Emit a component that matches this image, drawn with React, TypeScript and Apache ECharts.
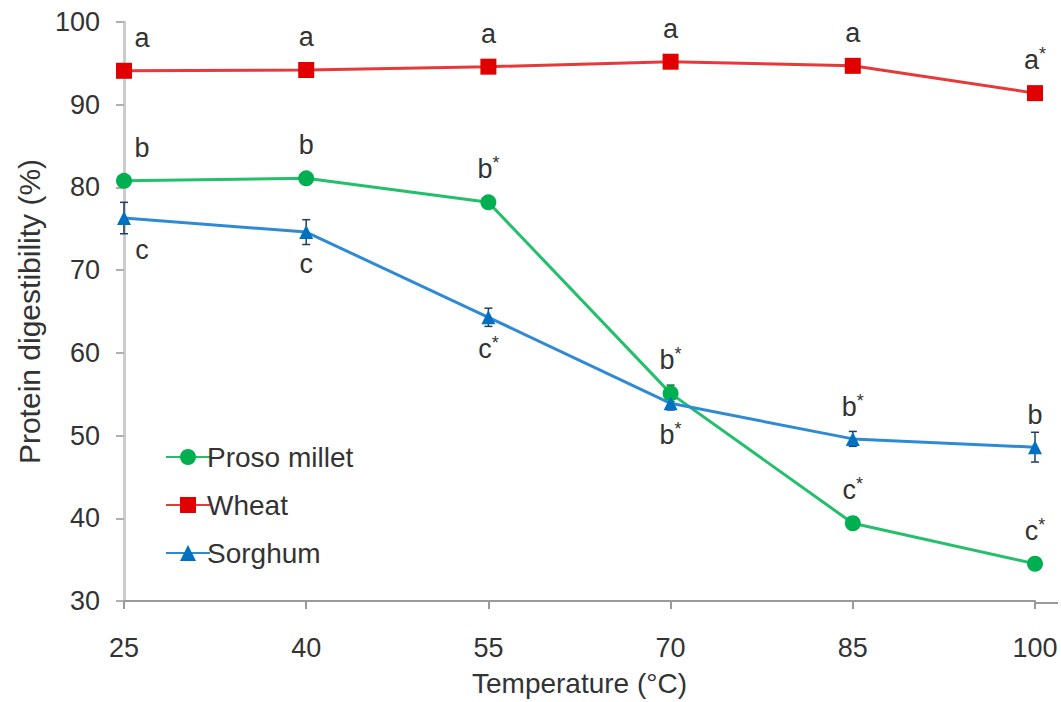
import React, { useEffect, useRef } from "react";
import * as echarts from "echarts";

const temperatures = ["25", "40", "55", "70", "85", "100"];
const prosoValues = [80.8, 81.1, 78.2, 55.1, 39.4, 34.5];
const wheatValues = [94.1, 94.2, 94.6, 95.2, 94.7, 91.4];
const sorghumValues = [76.3, 74.6, 64.3, 53.9, 49.6, 48.6];
const prosoErrors = [0.5, 0.5, 0.6, 1.0, 0.6, 0.5];
const wheatErrors = [0.4, 0.4, 0.4, 0.3, 0.4, 0.4];
const sorghumErrors = [1.9, 1.5, 1.1, 0.8, 0.9, 1.8];
const prosoLetters = ["b", "b", "b*", "b*", "c*", "c*"];
const wheatLetters = ["a", "a", "a", "a", "a", "a*"];
const sorghumLetters = ["c", "c", "c*", "b*", "b*", "b"];
const prosoLetterPos = ["top", "top", "top", "top", "top", "top"];
const wheatLetterPos = ["top", "top", "top", "top", "top", "top"];
const sorghumLetterPos = ["bottom", "bottom", "bottom", "bottom", "top", "top"];
const yTicks = { min: 30, max: 100, interval: 10 };

const TEXT = "#333333";
const FONT = "'Liberation Sans', Arial, sans-serif";

function letterRich(s: string) {
  if (s.endsWith("*")) return "{b|" + s.slice(0, -1) + "}{s|*}";
  return "{b|" + s + "}";
}

function buildData(values: number[], letters: string[], pos: string[]) {
  return values.map((v, i) => ({
    value: v,
    label: {
      show: true,
      position: pos[i],
      distance: 10,
      offset: [i === 0 ? 18 : 0, 0],
      formatter: letterRich(letters[i]),
    },
  }));
}

function errorSeries(name: string, values: number[], errs: number[], color: string) {
  return {
    type: "custom",
    name: name + "-err",
    z: 1,
    silent: true,
    data: values.map((v, i) => [i, v, errs[i]]),
    encode: { x: 0, y: 1 },
    renderItem: (params: any, api: any) => {
      const i = api.value(0);
      const v = api.value(1);
      const e = api.value(2);
      const top = api.coord([i, v + e]);
      const bot = api.coord([i, v - e]);
      const w = 4;
      const st = { stroke: color, lineWidth: 1.5 };
      return {
        type: "group",
        children: [
          { type: "line", shape: { x1: top[0], y1: top[1], x2: bot[0], y2: bot[1] }, style: st },
          { type: "line", shape: { x1: top[0] - w, y1: top[1], x2: top[0] + w, y2: top[1] }, style: st },
          { type: "line", shape: { x1: bot[0] - w, y1: bot[1], x2: bot[0] + w, y2: bot[1] }, style: st },
        ],
      };
    },
  };
}

export default function App() {
  const ref = useRef<HTMLDivElement>(null);
  useEffect(() => {
    document.body.style.margin = "0";
    const chart = echarts.init(ref.current!, null, { renderer: "svg" });
    const rich = {
      b: { fontSize: 27, color: TEXT, fontFamily: FONT, lineHeight: 30 },
      s: { fontSize: 18, color: TEXT, fontFamily: FONT, verticalAlign: "top" },
    };
    const lineSeries = (name: string, values: number[], letters: string[], pos: string[], color: string, lineColor: string, symbol: string, size: number) => ({
      type: "line",
      name,
      data: buildData(values, letters, pos),
      symbol,
      symbolSize: size,
      z: 3,
      itemStyle: { color },
      lineStyle: { color: lineColor, width: 3 },
      label: { rich },
    });
    chart.setOption({
      animation: false,
      backgroundColor: "#ffffff",
      textStyle: { fontFamily: FONT },
      grid: { left: 124, right: 26, top: 22, bottom: 99 },
      legend: {
        orient: "vertical",
        left: 160,
        top: 438,
        itemGap: 20,
        itemWidth: 44,
        itemHeight: 20,
        data: ["Proso millet", "Wheat", "Sorghum"],
        textStyle: { fontSize: 28, color: TEXT, fontFamily: FONT, padding: [0, 0, 0, -8] },
      },
      xAxis: {
        type: "category",
        data: temperatures,
        boundaryGap: false,
        name: "Temperature (°C)",
        nameLocation: "middle",
        nameGap: 68,
        nameTextStyle: { fontSize: 28, color: TEXT, fontFamily: FONT },
        axisLine: { lineStyle: { color: "#9a9a9a", width: 2 } },
        axisTick: { show: true, length: 8, alignWithLabel: true, lineStyle: { color: "#9a9a9a", width: 2 } },
        axisLabel: { fontSize: 27, color: TEXT, margin: 33, fontFamily: FONT },
        splitLine: { show: false },
      },
      yAxis: {
        type: "value",
        min: yTicks.min,
        max: yTicks.max,
        interval: yTicks.interval,
        name: "Protein digestibility (%)",
        nameLocation: "middle",
        nameGap: 80,
        nameTextStyle: { fontSize: 30, color: TEXT, fontFamily: FONT },
        axisLine: { show: true, lineStyle: { color: "#cccccc", width: 3 } },
        axisTick: { show: true, length: 8, lineStyle: { color: "#b0b0b0", width: 2 } },
        axisLabel: { fontSize: 27, color: TEXT, margin: 24, fontFamily: FONT },
        splitLine: { show: false },
      },
      graphic: [
        { type: "line", shape: { x1: 1035, y1: 603, x2: 1058, y2: 603 }, style: { stroke: "#9a9a9a", lineWidth: 2 } },
      ],
      series: [
        lineSeries("Proso millet", prosoValues, prosoLetters, prosoLetterPos, "#00b050", "#22c06a", "circle", 16),
        lineSeries("Wheat", wheatValues, wheatLetters, wheatLetterPos, "#e00000", "#e8393a", "rect", 16),
        lineSeries("Sorghum", sorghumValues, sorghumLetters, sorghumLetterPos, "#0070c0", "#2f8ad6", "triangle", 14),
        errorSeries("Proso millet", prosoValues, prosoErrors, "#0a6a35"),
        errorSeries("Wheat", wheatValues, wheatErrors, "#8a1010"),
        errorSeries("Sorghum", sorghumValues, sorghumErrors, "#1d3f66"),
      ],
    });
    return () => chart.dispose();
  }, []);
  return <div ref={ref} style={{ width: 1061, height: 702 }} />;
}
